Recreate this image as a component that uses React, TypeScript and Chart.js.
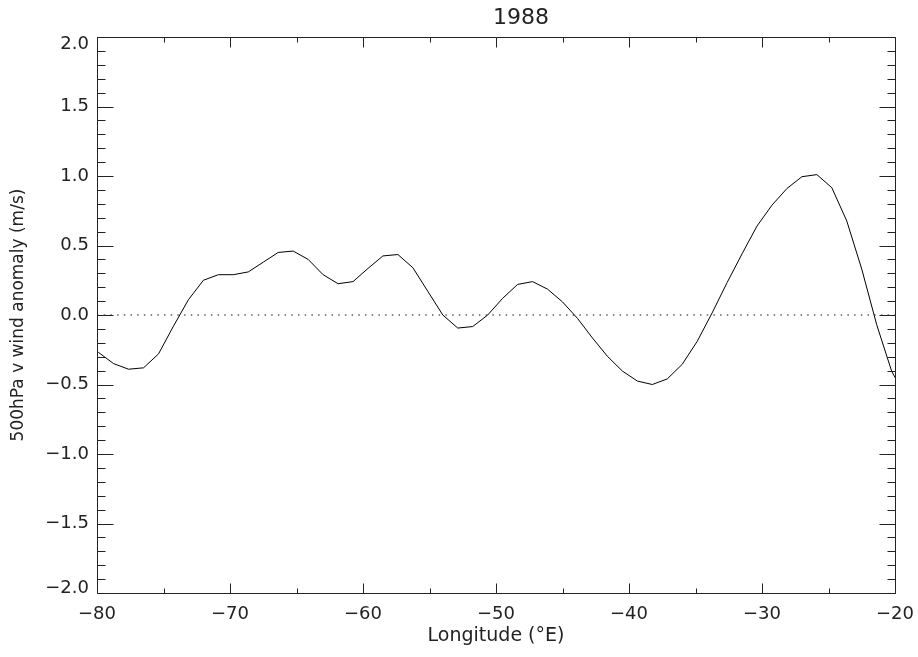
import React, { useEffect, useRef } from 'react';
import { Chart, registerables } from 'chart.js';

Chart.register(...registerables);

// ---- data ----
const LONGITUDES = [
  -81, -79.875, -78.75, -77.625, -76.5, -75.375, -74.25, -73.125, -72, -70.875,
  -69.75, -68.625, -67.5, -66.375, -65.25, -64.125, -63, -61.875, -60.75, -59.625,
  -58.5, -57.375, -56.25, -55.125, -54, -52.875, -51.75, -50.625, -49.5, -48.375,
  -47.25, -46.125, -45, -43.875, -42.75, -41.625, -40.5, -39.375, -38.25, -37.125,
  -36, -34.875, -33.75, -32.625, -31.5, -30.375, -29.25, -28.125, -27, -25.875,
  -24.75, -23.625, -22.5, -21.375, -20.25, -19.125,
];
const V_ANOMALY = [
  -0.2, -0.27, -0.35, -0.39, -0.38, -0.28, -0.08, 0.11, 0.25, 0.29,
  0.29, 0.31, 0.38, 0.45, 0.46, 0.4, 0.29, 0.225, 0.24, 0.335,
  0.425, 0.435, 0.34, 0.17, 0.0, -0.094, -0.083, 0.0, 0.12, 0.22,
  0.24, 0.186, 0.094, -0.024, -0.165, -0.297, -0.403, -0.475, -0.5, -0.46,
  -0.355, -0.19, 0.015, 0.233, 0.44, 0.64, 0.79, 0.91, 0.995, 1.01,
  0.916, 0.676, 0.33, -0.07, -0.405, -0.6,
];
const ZERO_LINE_X = [-80, -20];
const ZERO_LINE_Y = [0, 0];
const X_TICK_VALUES = [-80, -70, -60, -50, -40, -30, -20];
const X_MINOR_TICK_VALUES = [-75, -65, -55, -45, -35, -25];
const Y_TICK_VALUES = [-2, -1.5, -1, -0.5, 0, 0.5, 1, 1.5, 2];
const Y_MINOR_TICK_VALUES = [
  -1.9, -1.8, -1.7, -1.6, -1.4, -1.3, -1.2, -1.1, -0.9, -0.8, -0.7, -0.6,
  -0.4, -0.3, -0.2, -0.1, 0.1, 0.2, 0.3, 0.4, 0.6, 0.7, 0.8, 0.9,
  1.1, 1.2, 1.3, 1.4, 1.6, 1.7, 1.8, 1.9,
];
const TITLE = '1988';
const X_TITLE = 'Longitude (°E)';
const Y_TITLE = '500hPa v wind anomaly (m/s)';

const FONT = "'DejaVu Sans', 'Liberation Sans', sans-serif";
const INK = '#222';

const fmt = (v: number, d: number) => (v < 0 ? '\u2212' : '') + Math.abs(v).toFixed(d);

const idlFrame = {
  id: 'idlFrame',
  beforeDraw(chart: any) {
    const ys = chart.scales.y;
    if (ys && typeof ys.getLabelItems === 'function') {
      const items = ys.getLabelItems();
      for (const it of items) {
        if (it.__shifted) continue;
        const tr = (it.options && it.options.translation) || it.translation;
        if (!tr) continue;
        if (it.label === fmt(2, 1)) tr[1] += 7;
        if (it.label === fmt(-2, 1)) tr[1] -= 5;
        it.__shifted = true;
      }
    }
  },
  afterDraw(chart: any) {
    const { ctx, chartArea: a, scales } = chart;
    const xs = scales.x;
    const ys = scales.y;
    const L = Math.round(a.left) + 0.5;
    const R = Math.round(a.right) + 0.5;
    const T = Math.round(a.top) + 0.5;
    const B = Math.round(a.bottom) + 0.5;
    ctx.save();
    ctx.strokeStyle = INK;
    ctx.lineWidth = 1;
    ctx.beginPath();
    ctx.rect(L, T, R - L, B - T);
    const xTick = (v: number, len: number) => {
      const p = Math.round(xs.getPixelForValue(v)) + 0.5;
      ctx.moveTo(p, B);
      ctx.lineTo(p, B - len);
      ctx.moveTo(p, T);
      ctx.lineTo(p, T + len);
    };
    const yTick = (v: number, len: number) => {
      const p = Math.round(ys.getPixelForValue(v)) + 0.5;
      ctx.moveTo(L, p);
      ctx.lineTo(L + len, p);
      ctx.moveTo(R, p);
      ctx.lineTo(R - len, p);
    };
    X_TICK_VALUES.forEach((v) => xTick(v, 10));
    X_MINOR_TICK_VALUES.forEach((v) => xTick(v, 5));
    Y_TICK_VALUES.forEach((v) => yTick(v, 16));
    Y_MINOR_TICK_VALUES.forEach((v) => yTick(v, 8));
    ctx.stroke();

    ctx.fillStyle = INK;
    ctx.font = `22px ${FONT}`;
    ctx.textAlign = 'center';
    ctx.textBaseline = 'middle';
    ctx.fillText(TITLE, 521, 18);
    ctx.restore();
  },
};

export default function App() {
  const ref = useRef<HTMLCanvasElement | null>(null);

  useEffect(() => {
    if (!ref.current) return;
    const chart = new Chart(ref.current, {
      type: 'line',
      data: {
        datasets: [
          {
            label: 'v anomaly',
            data: LONGITUDES.map((x, i) => ({ x, y: V_ANOMALY[i] })),
            borderColor: '#000',
            borderWidth: 1,
            pointRadius: 0,
            tension: 0,
            fill: false,
          },
          {
            label: 'zero',
            data: ZERO_LINE_X.map((x, i) => ({ x, y: ZERO_LINE_Y[i] })),
            borderColor: '#111',
            borderWidth: 1,
            borderDash: [1.5, 5.2],
            pointRadius: 0,
            fill: false,
          },
        ],
      },
      options: {
        responsive: false,
        animation: false,
        events: [],
        layout: { padding: { top: 37, right: 23, left: 0, bottom: 0 } },
        plugins: {
          legend: { display: false },
          tooltip: { enabled: false },
          title: { display: false },
        },
        scales: {
          x: {
            type: 'linear',
            min: -80,
            max: -20,
            afterBuildTicks: (s: any) => {
              s.ticks = X_TICK_VALUES.map((value) => ({ value }));
            },
            afterFit: (s: any) => {
              s.height = 64;
              s.paddingLeft = 0;
              s.paddingRight = 0;
            },
            grid: { display: false, drawTicks: false },
            border: { display: false },
            ticks: {
              autoSkip: false,
              maxRotation: 0,
              padding: 11,
              color: INK,
              font: { family: FONT, size: 18 },
              callback: (v: any) => fmt(Number(v), 0),
            },
            title: {
              display: true,
              text: X_TITLE,
              color: INK,
              font: { family: FONT, size: 19 },
              padding: { top: 0, bottom: 10 },
            },
          },
          y: {
            type: 'linear',
            min: -2,
            max: 2,
            afterBuildTicks: (s: any) => {
              s.ticks = Y_TICK_VALUES.map((value) => ({ value }));
            },
            afterFit: (s: any) => {
              s.width = 97;
              s.paddingTop = 0;
              s.paddingBottom = 0;
            },
            grid: { display: false, drawTicks: false },
            border: { display: false },
            ticks: {
              autoSkip: false,
              padding: 8,
              color: INK,
              font: { family: FONT, size: 18 },
              callback: (v: any) => fmt(Number(v), 1),
            },
            title: {
              display: true,
              text: Y_TITLE,
              color: INK,
              font: { family: FONT, size: 17 },
              padding: { top: 8, bottom: 0 },
            },
          },
        },
      },
      plugins: [idlFrame],
    } as any);
    return () => chart.destroy();
  }, []);

  return (
    <div style={{ position: 'absolute', left: 0, top: 0, width: 918, height: 657 }}>
      <canvas ref={ref} width={918} height={657} style={{ display: 'block' }} />
    </div>
  );
}
